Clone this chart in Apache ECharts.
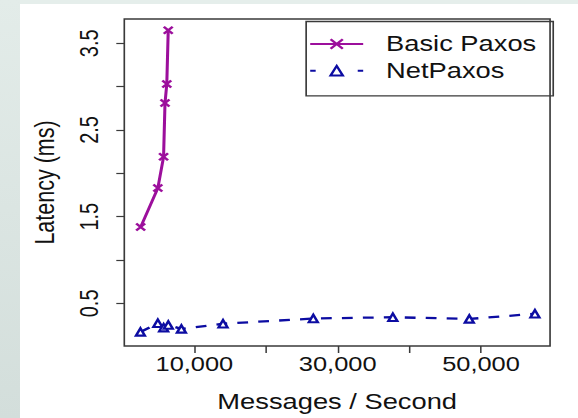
<!DOCTYPE html>
<html>
<head>
<meta charset="utf-8">
<script src="https://cdn.jsdelivr.net/npm/echarts@6/dist/echarts.min.js"></script>
<style>
  html, body { margin: 0; padding: 0; width: 578px; height: 418px; overflow: hidden; background: #ffffff; }
  #topStrip { position: absolute; left: 0; top: 0; width: 578px; height: 4px; background: #e5eeeb; }
  #leftStrip { position: absolute; left: 0; top: 0; width: 20px; height: 418px;
               background: linear-gradient(to bottom, #e3ece9, #d3dedb); }
  #chart { position: absolute; left: 0; top: 0; width: 455px; height: 418px;
           transform: scaleX(1.27033); transform-origin: 0 0; }
</style>
</head>
<body>
<div id="topStrip"></div>
<div id="leftStrip"></div>
<div id="chart"></div>
<script>
// ---- data ----
const seriesNames = ['Basic Paxos', 'NetPaxos'];
const basicX = [2500, 4900, 5700, 5900, 6150, 6350];
const basicY = [1.38, 1.83, 2.19, 2.81, 3.03, 3.65];
const netX = [2470, 4900, 5710, 6360, 8190, 14000, 26600, 37700, 48370, 57530];
const netY = [0.17, 0.27, 0.22, 0.25, 0.205, 0.265, 0.325, 0.34, 0.32, 0.38];
const xTicks = [10000, 20000, 30000, 40000, 50000];
const xTickLabels = [10000, 30000, 50000];
const yTicks = [0.5, 1.0, 1.5, 2.0, 2.5, 3.0, 3.5];
const yTickLabels = [0.5, 1.5, 2.5, 3.5];
const xTitle = 'Messages / Second';
const yTitle = 'Latency (ms)';

// ---- styling ----
const FONT = 'Liberation Sans, Arial, sans-serif';
const MAGENTA = '#9c0f9c';
const BLUE = '#0c0ca2';
const FRAME = '#3a3a3a';

const chart = echarts.init(document.getElementById('chart'), null, { renderer: 'svg' });

const zip = (xs, ys) => xs.map((x, i) => [x, ys[i]]);

chart.setOption({
  animation: false,
  backgroundColor: 'transparent',
  textStyle: { fontFamily: FONT },
  grid: {
    left: 97.85, right: 22, top: 19, bottom: 66.3,
    show: true, borderColor: FRAME, borderWidth: 1.3, backgroundColor: 'transparent'
  },
  xAxis: {
    type: 'value', min: 220, max: 59640,
    name: xTitle, nameLocation: 'middle', nameGap: 45,
    nameTextStyle: { fontSize: 21.5, color: '#111', fontFamily: FONT },
    axisLine: { show: false },
    splitLine: { show: false },
    axisTick: { show: true, customValues: xTicks, length: 7, lineStyle: { color: FRAME, width: 1.2 } },
    axisLabel: {
      customValues: xTickLabels, margin: 7.5, fontSize: 20, color: '#111', fontFamily: FONT,
      formatter: v => Number(v).toLocaleString('en-US')
    }
  },
  yAxis: {
    type: 'value', min: 0.008, max: 3.78,
    name: yTitle, nameLocation: 'middle', nameGap: 52,
    nameTextStyle: { fontSize: 21.5, color: '#111', fontFamily: FONT },
    axisLine: { show: false },
    splitLine: { show: false },
    axisTick: { show: true, customValues: yTicks, length: 6.3, lineStyle: { color: FRAME, width: 1.2 } },
    axisLabel: {
      customValues: yTickLabels, rotate: 90, margin: 17.5, fontSize: 20, color: '#111', fontFamily: FONT,
      formatter: v => Number(v).toFixed(1)
    }
  },
  legend: {
    orient: 'vertical', left: 243.2, top: 33, padding: 0,
    itemWidth: 41.7, itemHeight: 12, itemGap: 4.7,
    selectedMode: false,
    textStyle: { fontSize: 21.5, color: '#111', fontFamily: FONT, lineHeight: 22, padding: [0, 0, 0, 13] },
    data: [
      { name: seriesNames[0] },
      { name: seriesNames[1], lineStyle: { type: [4.3, 33.1] } }
    ]
  },
  graphic: [{
    type: 'rect', left: 238.5, top: 19, z: 10, silent: true,
    shape: { width: 194.5, height: 74.3 },
    style: { fill: 'none', stroke: FRAME, lineWidth: 1.3 }
  }],
  series: [
    {
      name: seriesNames[0], type: 'line', data: zip(basicX, basicY),
      symbol: 'path://M0,0L10,10M10,0L0,10', symbolSize: 7,
      lineStyle: { color: MAGENTA, width: 2.4 },
      itemStyle: { color: MAGENTA, borderColor: MAGENTA, borderWidth: 2.2 },
      z: 3
    },
    {
      name: seriesNames[1], type: 'line', data: zip(netX, netY),
      symbol: 'triangle', symbolSize: [7, 7.5],
      lineStyle: { color: BLUE, width: 2.3, type: [8.5, 8] },
      itemStyle: { color: '#ffffff', borderColor: BLUE, borderWidth: 2.1 },
      z: 2
    }
  ]
});
</script>
</body>
</html>
